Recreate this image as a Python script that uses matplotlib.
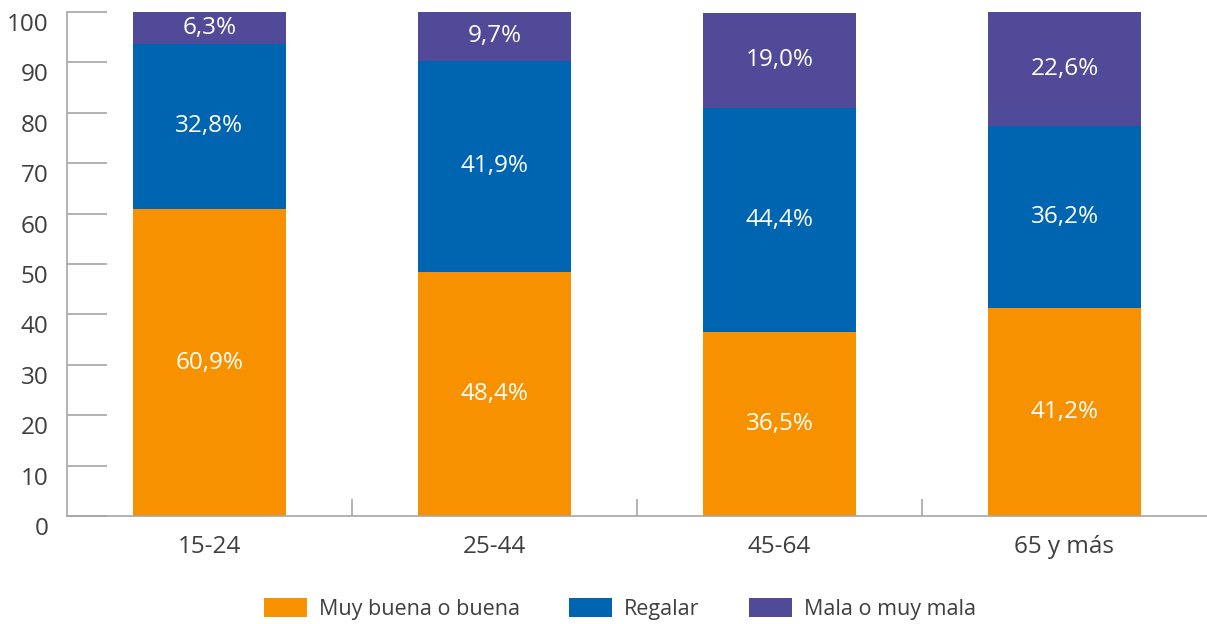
import matplotlib
matplotlib.use("Agg")
import matplotlib.pyplot as plt
import matplotlib.transforms as mtransforms
from matplotlib.patches import Patch
import numpy as np

plt.rcParams['font.family'] = ['Open Sans', 'DejaVu Sans']

categories = ["15-24", "25-44", "45-64", "65 y más"]
series_names = ["Muy buena o buena", "Regalar", "Mala o muy mala"]
muy_buena = [60.9, 48.4, 36.5, 41.2]
regular = [32.8, 41.9, 44.4, 36.2]
mala = [6.3, 9.7, 19.0, 22.6]
yticks = [0, 10, 20, 30, 40, 50, 60, 70, 80, 90, 100]

colors = ["#F79100", "#0065B0", "#514A98"]
axis_color = "#A6A6A6"
text_color = "#3F3F3F"

fig = plt.figure(figsize=(12.07, 6.24), dpi=100)
ax = fig.add_axes([67/1207, 108/624, 1140/1207, 504/624])

x = np.arange(len(categories))
width = 0.54
bottom = np.zeros(len(categories))
for vals, col in zip([muy_buena, regular, mala], colors):
    vals = np.array(vals)
    ax.bar(x, vals, width, bottom=bottom, color=col, zorder=2)
    for xi, b, v in zip(x, bottom, vals):
        ax.text(xi, b + v / 2, f"{v:.1f}%".replace(".", ","), ha="center", va="center",
                color="white", fontsize=17.5)
    bottom += vals

ax.set_xlim(-0.5, len(categories) - 0.5)
ax.set_ylim(0, 100)
ax.set_yticks(yticks)
ax.set_yticklabels([str(t) for t in yticks])
ax.tick_params(axis="y", direction="in", length=29, width=1.2, color=axis_color,
               labelsize=17.5, labelcolor=text_color, pad=13.5)
offset = mtransforms.ScaledTranslation(0, -10/100, fig.dpi_scale_trans)
for lab in ax.get_yticklabels():
    lab.set_transform(lab.get_transform() + offset)

ax.set_xticks(x)
ax.set_xticklabels(categories)
ax.set_xticks(np.arange(0.5, len(categories) - 1, 1.0), minor=True)
ax.tick_params(axis="x", which="major", length=0, labelsize=17.5, labelcolor=text_color, pad=14)
ax.tick_params(axis="x", which="minor", direction="in", length=12, width=1.2, color=axis_color)

for s in ["top", "right"]:
    ax.spines[s].set_visible(False)
for s in ["left", "bottom"]:
    ax.spines[s].set_color(axis_color)
    ax.spines[s].set_linewidth(1.2)

handles = [Patch(facecolor=c, edgecolor="none") for c in colors]
fig.legend(handles, series_names, loc="center", bbox_to_anchor=(620/1207, 1 - 609/624),
           ncol=3, frameon=False, fontsize=15.5, handlelength=2.0, handleheight=0.95,
           handletextpad=0.55, columnspacing=2.3, labelcolor=text_color)

fig.savefig("out.png", dpi=100)
